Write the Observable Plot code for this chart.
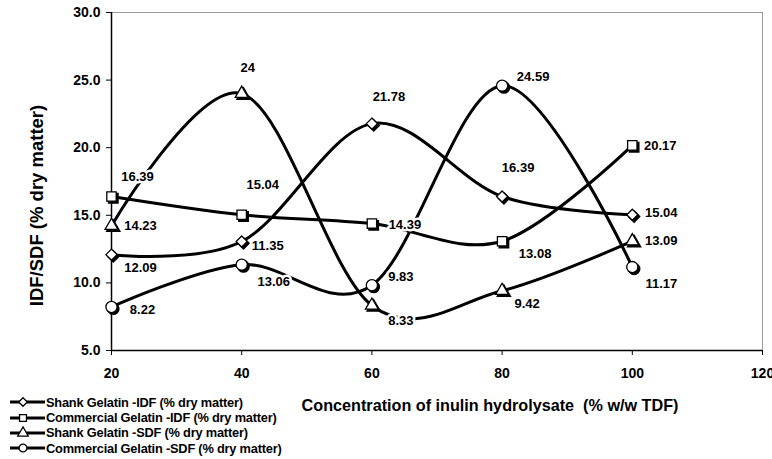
<!DOCTYPE html>
<html><head><meta charset="utf-8">
<script src="https://cdn.jsdelivr.net/npm/d3@7"></script>
<script src="https://cdn.jsdelivr.net/npm/@observablehq/plot@0.6"></script>
<style>
body{margin:0;background:#fff;}
#wrap{position:relative;width:772px;height:459px;font-family:"Liberation Sans",Arial,sans-serif;font-weight:bold;background:#fff;}
#legend{position:absolute;left:8px;top:394.5px;font-size:12.8px;color:#000;letter-spacing:-0.2px;}
.row{display:flex;align-items:center;height:15.4px;line-height:15.4px;white-space:nowrap;overflow:visible;}
.row svg{flex:none;display:block;}
</style></head><body><div id="wrap"><div id="chart"></div><div id="legend"></div></div>
<script>
const concentrations = [20, 40, 60, 80, 100];
const shankIDF = [12.09, 13.06, 21.78, 16.39, 15.04];
const commercialIDF = [16.39, 15.04, 14.39, 13.08, 20.17];
const shankSDF = [14.23, 24, 8.33, 9.42, 13.09];
const commercialSDF = [8.22, 11.35, 9.83, 24.59, 11.17];
const shankIDFLabels = ["12.09", "11.35", "21.78", "16.39", "15.04"];
const commercialIDFLabels = ["16.39", "15.04", "14.39", "13.08", "20.17"];
const shankSDFLabels = ["14.23", "24", "8.33", "9.42", "13.09"];
const commercialSDFLabels = ["8.22", "13.06", "9.83", "24.59", "11.17"];
const seriesNames = [
  "Shank Gelatin -IDF (% dry matter)",
  "Commercial Gelatin -IDF (% dry matter)",
  "Shank Gelatin -SDF (% dry matter)",
  "Commercial Gelatin -SDF (% dry matter)"
];
const xTicks = [20, 40, 60, 80, 100, 120];
const yTicks = [5, 10, 15, 20, 25, 30];
const xTitle = "Concentration of inulin hydrolysate  (% w/w TDF)";
const yTitle = "IDF/SDF (% dry matter)";

// styling (not data)
const symbols = ["diamond2", "square", "triangle", "circle"];
const symbolR = [5.0, 5.3, 4.8, 5.6];
const labelOffsets = [
  [[29, 13], [26, 4], [17, -27], [16, -29], [29, -2]],
  [[26, -20], [21, -30], [33, 1], [33, 13], [28, 0]],
  [[29, 0], [6, -26], [29, 15], [25, 13], [29, 0]],
  [[31, 3], [32, 17], [29, -8], [31, -9], [29, 17]]
];

const valueSets = [shankIDF, commercialIDF, shankSDF, commercialSDF];
const labelSets = [shankIDFLabels, commercialIDFLabels, shankSDFLabels, commercialSDFLabels];
const series = valueSets.map((vals, s) =>
  concentrations.map((c, i) => ({x: c, y: vals[i], label: labelSets[s][i], s}))
);

const marks = [];
marks.push(Plot.ruleY([30], {stroke: "#999", strokeWidth: 1}));
marks.push(Plot.ruleX([120], {stroke: "#999", strokeWidth: 1}));
marks.push(Plot.ruleX([20], {stroke: "#000", strokeWidth: 1.5}));
marks.push(Plot.ruleY([5], {stroke: "#000", strokeWidth: 1.5}));
marks.push(Plot.axisY({ticks: yTicks, tickFormat: d => d.toFixed(1), tickSize: 5, tickPadding: 6, label: null, fontSize: 14, fontWeight: "bold", stroke: "#000"}));
marks.push(Plot.axisX({ticks: xTicks, tickFormat: d => String(d), tickSize: 5, tickPadding: 13, label: null, fontSize: 14, fontWeight: "bold", stroke: "#000"}));

series.forEach(d => marks.push(Plot.line(d, {x: "x", y: "y", curve: "cardinal", stroke: "#000", strokeWidth: 3})));
series.forEach((d, s) => {
  marks.push(Plot.dot(d, {x: "x", y: "y", symbol: () => symbols[s], r: symbolR[s], fill: "#000", stroke: "#000", strokeWidth: 1.5, dx: 1.8, dy: 1.8}));
  marks.push(Plot.dot(d, {x: "x", y: "y", symbol: () => symbols[s], r: symbolR[s], fill: "#fff", stroke: "#000", strokeWidth: 1.3}));
});
series.forEach((d, s) => {
  d.forEach((p, i) => {
    const [dx, dy] = labelOffsets[s][i];
    marks.push(Plot.text([p], {x: "x", y: "y", text: "label", dx, dy, fontSize: 13, fontWeight: "bold", fill: "#000", stroke: "#fff", strokeWidth: 5, paintOrder: "stroke"}));
  });
});
marks.push(Plot.text([xTitle], {text: d => d, frameAnchor: "bottom", dx: 53, dy: 60, fontSize: 16.2, fontWeight: "bold", fill: "#000"}));
marks.push(Plot.text([yTitle], {text: d => d, frameAnchor: "left", textAnchor: "middle", rotate: -90, dx: -74, dy: 24, fontSize: 18.5, fontWeight: "bold", fill: "#000"}));

const chart = Plot.plot({
  width: 772,
  height: 459,
  marginLeft: 111,
  marginRight: 10,
  marginTop: 12,
  marginBottom: 109,
  x: {domain: [20, 120]},
  y: {domain: [5, 30]},
  style: {fontFamily: "'Liberation Sans', Arial, sans-serif", fontSize: "14px", fontWeight: "bold", color: "#000", background: "#fff"},
  marks
});
document.getElementById("chart").appendChild(chart);

const legend = d3.select("#legend");
const symMap = {diamond2: d3.symbolDiamond2, square: d3.symbolSquare, triangle: d3.symbolTriangle, circle: d3.symbolCircle};
seriesNames.forEach((name, s) => {
  const row = legend.append("div").attr("class", "row");
  const svg = row.append("svg").attr("width", 38).attr("height", 14);
  svg.append("line").attr("x1", 2).attr("x2", 37).attr("y1", 7).attr("y2", 7).attr("stroke", "#000").attr("stroke-width", 3);
  const size = Math.PI * 3.9 * 3.9;
  svg.append("path").attr("transform", "translate(15,7)").attr("d", d3.symbol(symMap[symbols[s]], size)()).attr("fill", "#fff").attr("stroke", "#000").attr("stroke-width", 1.3);
  row.append("span").text(name);
});
</script></body></html>
